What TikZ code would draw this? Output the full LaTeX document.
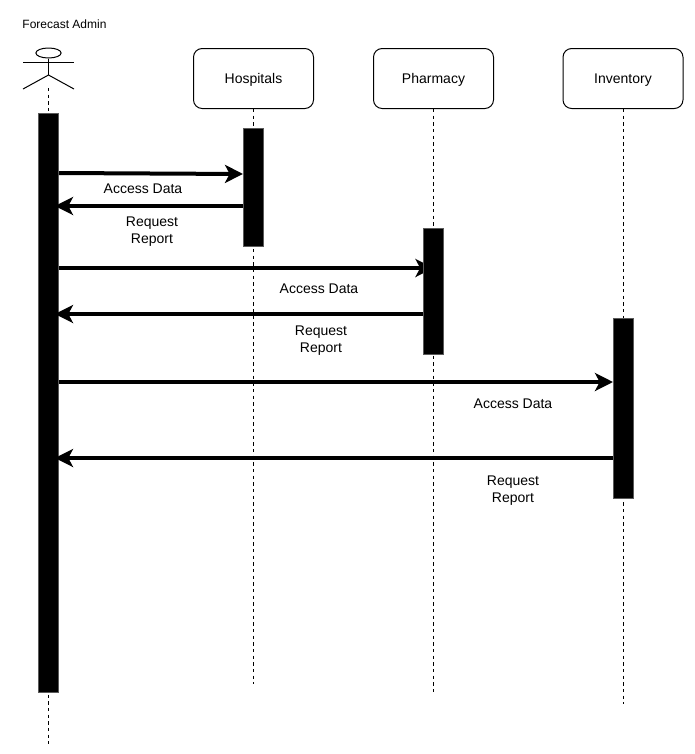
\documentclass[tikz,border=0pt]{standalone}
\usepackage{fontspec}
\setmainfont{Liberation Sans}
\usetikzlibrary{arrows.meta,backgrounds,shapes.geometric}
\definecolor{barborder}{RGB}{90,90,90}
\tikzset{
  role box/.style={
    rectangle,
    rounded corners=6.5pt,
    draw=black,
    line width=0.75pt,
    minimum width=90pt,
    minimum height=45pt,
    text height=8.5pt,
    text depth=1.7pt,
    font=\fontsize{10.5}{12.75}\selectfont
  },
  life bar/.style={
    rectangle,
    draw=barborder,
    fill=black,
    line width=0.75pt,
    minimum width=15pt,
    inner sep=0pt
  },
  lifeline/.style={
    draw=black,
    line width=0.75pt,
    dash pattern=on 2.5pt off 2.5pt
  },
  msg arrow/.style={
    -{Stealth[length=13.5pt,width=13.5pt,inset=3.5pt]},
    line width=3pt,
    draw=black
  },
  msg label/.style={
    align=center,
    inner sep=0pt,
    font=\fontsize{10.5}{12.75}\selectfont
  },
  actor line/.style={
    draw=black,
    line width=0.75pt
  }
}

\begin{document}
\begin{tikzpicture}[x=0.75pt,y=-0.75pt]
  \useasboundingbox (0,0) rectangle (694,754);

  % Actor
  \node[inner sep=0pt, font=\fontsize{9}{11}\selectfont] (adminname) at (64.5,24) {Forecast Admin};
  \node[ellipse, draw=black, line width=0.75pt, minimum width=19pt, minimum height=7.5pt, inner sep=0pt] (adminhead) at (48.5,53) {};
  \coordinate (adminhip) at (48.5,75);
  \coordinate (adminarml) at (23,62);
  \coordinate (adminarmr) at (74,62);
  \coordinate (adminlegl) at (23,89);
  \coordinate (adminlegr) at (74,89);
  \coordinate (adminfoot) at (48.5,88);
  \coordinate (adminend) at (48.5,744);
  \draw[actor line] (adminhead.south) -- (adminhip);
  \draw[actor line] (adminarml) -- (adminarmr);
  \draw[actor line] (adminlegl) -- (adminhip) -- (adminlegr);

  % Role boxes
  \node[role box] (hospitals) at (253.5,78.5) {Hospitals};
  \node[role box] (pharmacy) at (433.5,78.5) {Pharmacy};
  \node[role box] (inventory) at (623,78.5) {Inventory};

  % Activation bars
  \node[life bar, minimum height=433.9pt] (adminbar) at (48.5,403) {};
  \node[life bar, minimum height=88pt] (hospitalsbar) at (253.5,187.5) {};
  \node[life bar, minimum height=94pt] (pharmacybar) at (433.5,291.5) {};
  \node[life bar, minimum height=134.6pt] (inventorybar) at (623.5,408.5) {};

  % Lifelines
  \coordinate (hospitalsend) at (253.5,684);
  \coordinate (pharmacyend) at (433.5,694);
  \coordinate (inventoryend) at (623,704);
  \begin{scope}[on background layer]
    \draw[lifeline] (adminfoot) -- (adminend);
    \draw[lifeline] (hospitals.south) -- (hospitalsend);
    \draw[lifeline] (pharmacy.south) -- (pharmacyend);
    \draw[lifeline] (inventory.south) -- (inventoryend);
    \draw[msg arrow] (adminbar.east |- 0,268) -- (pharmacybar.center |- 0,268);
  \end{scope}

  % Messages
  \draw[msg arrow] (adminbar.east |- 0,173) -- (hospitalsbar.west |- 0,174);
  \draw[msg arrow] (hospitalsbar.west |- 0,206) -- ([xshift=-3pt]adminbar.east |- 0,206);
  \draw[msg arrow] (pharmacybar.west |- 0,314) -- ([xshift=-3pt]adminbar.east |- 0,314);
  \draw[msg arrow] (adminbar.east |- 0,382) -- (inventorybar.west |- 0,382);
  \draw[msg arrow] (inventorybar.west |- 0,458) -- ([xshift=-3pt]adminbar.east |- 0,458);

  % Labels
  \node[msg label] (hospitalsaccess) at (143,189) {Access Data};
  \node[msg label] (hospitalsreport) at (152,232) {Request\\Report};
  \node[msg label] (pharmacyaccess) at (319,289) {Access Data};
  \node[msg label] (pharmacyreport) at (321,341) {Request\\Report};
  \node[msg label] (inventoryaccess) at (513,404) {Access Data};
  \node[msg label] (inventoryreport) at (513,491) {Request\\Report};
\end{tikzpicture}
\end{document}
